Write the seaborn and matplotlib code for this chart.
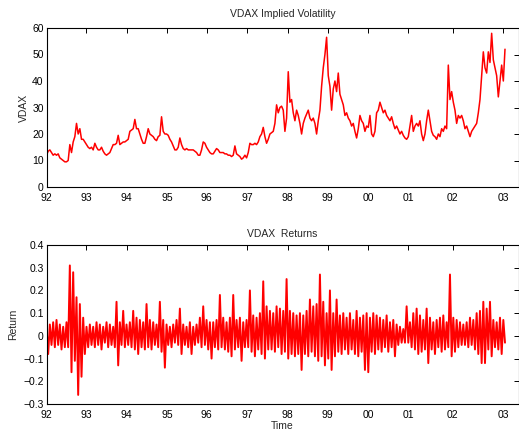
import numpy as np
import pandas as pd
import matplotlib
matplotlib.use("Agg")
import matplotlib.pyplot as plt
import seaborn as sns

# ---------------- data ----------------
# VDAX level, sampled every 5 observation units from the start of 1992
vdax_level = [
    # 1992
    12, 13.5, 14, 13, 12, 12.5, 12, 12.5, 11, 10.5, 10, 9.5, 9.5, 10, 16, 13, 17, 19, 24, 20, 22, 18, 18, 17,
    # 1993
    16, 15, 14.5, 15, 14, 16.5, 15, 14, 14, 15, 13.5, 12.5, 12, 12.5, 13, 14.5, 16, 16, 16.5, 19.5, 16, 16.5, 17, 17,
    # 1994
    17.5, 18, 21, 21.5, 22, 25.5, 22, 22, 20, 18, 16.5, 16.5, 19, 22, 20, 19.5, 19, 18, 17.5, 19, 19.5, 26.5, 21, 20,
    # 1995
    20, 19.5, 18, 17, 15.5, 14, 14, 15, 18.5, 16, 14.5, 14, 14.5, 14, 14, 14, 14, 13.5, 13, 12, 12, 14, 17, 16.5,
    # 1996
    15, 14, 13, 12.5, 12.5, 13.5, 14.5, 14, 13, 13, 13, 12.5, 12.5, 12, 12, 11.5, 12, 15.5, 12.5, 12, 11.5, 10.5, 11, 12,
    # 1997
    11, 13, 16.5, 16, 16, 16.5, 16, 17,
    19, 20, 22.5, 19, 16.5, 18, 20, 20.5, 21, 24, 31, 28, 30, 30.5, 29, 21, 26,
    # 1998
    43.5, 32, 33, 28, 25, 29, 27, 24, 20, 24, 26, 27.5, 29, 26, 25, 26, 24, 20, 25, 29, 38, 45, 50,
    # 1999
    56.5, 42, 38, 29, 37, 40, 36, 43, 35, 33, 31, 27, 28, 26, 25, 23, 24, 21, 18.5, 22,
    27, 25, 24, 21, 23, 22.5,
    # 2000
    27, 20, 19, 21, 28, 29, 32, 30, 28, 29, 27, 26, 25, 26.5, 24, 22, 23, 21.5, 20, 21, 19.5, 18.5, 18, 19,
    # 2001
    23, 27, 21, 23, 24, 23, 25, 20, 17.5, 20, 25, 29, 25, 21, 19.5, 19, 18, 20, 19, 22, 21, 23, 22,
    # 2002
    46, 33, 36, 32, 29, 24, 27, 26, 27, 25, 22, 23, 21, 19, 21, 22, 23, 24, 28, 33, 42, 51, 45, 43, 51, 47, 58,
    48, 45, 42, 34, 40, 46, 40, 52,
]
level_step = 5

# Daily VDAX returns: upper / lower extent in each 10-unit window
ret_high = [
    0.04, 0.05, 0.06, 0.07, 0.05, 0.04, 0.06, 0.31, 0.28, 0.17, 0.14, 0.08,
    0.04, 0.05, 0.04, 0.06, 0.05, 0.04, 0.06, 0.05, 0.04, 0.15, 0.06, 0.11,
    0.05, 0.06, 0.11, 0.08, 0.07, 0.06, 0.14, 0.07, 0.06, 0.05, 0.15, 0.07,
    0.05, 0.04, 0.05, 0.07, 0.12, 0.05, 0.04, 0.06, 0.04, 0.05, 0.08, 0.13,
    0.07, 0.06, 0.06, 0.07, 0.18, 0.08, 0.06, 0.08, 0.18, 0.07, 0.08, 0.06,
    0.07, 0.20, 0.09, 0.08, 0.10, 0.24, 0.13, 0.11, 0.10, 0.13, 0.12, 0.11,
    0.25, 0.11, 0.10, 0.09, 0.10, 0.09, 0.11, 0.16, 0.13, 0.14, 0.27, 0.15,
    0.10, 0.20, 0.10, 0.16, 0.09, 0.10, 0.08, 0.10, 0.07, 0.11, 0.08, 0.09,
    0.10, 0.08, 0.10, 0.09, 0.08, 0.07, 0.09, 0.06, 0.07, 0.05, 0.04, 0.03,
    0.13, 0.06, 0.10, 0.12, 0.09, 0.07, 0.12, 0.08, 0.06, 0.07, 0.08, 0.09, 0.06,
    0.27, 0.08, 0.07, 0.06, 0.05, 0.06, 0.08, 0.07, 0.10, 0.11, 0.15, 0.12, 0.15,
    0.07, 0.06, 0.08, 0.07,
]
ret_low = [
    -0.08, -0.04, -0.05, -0.04, -0.06, -0.05, -0.05, -0.16, -0.11, -0.26, -0.18, -0.08,
    -0.05, -0.04, -0.05, -0.04, -0.06, -0.03, -0.05, -0.04, -0.05, -0.13, -0.04, -0.05,
    -0.04, -0.05, -0.06, -0.08, -0.05, -0.06, -0.05, -0.06, -0.04, -0.05, -0.07, -0.14,
    -0.04, -0.05, -0.03, -0.04, -0.08, -0.04, -0.05, -0.08, -0.04, -0.03, -0.05, -0.04,
    -0.06, -0.10, -0.05, -0.06, -0.05, -0.06, -0.07, -0.09, -0.06, -0.05, -0.11, -0.05,
    -0.05, -0.07, -0.09, -0.06, -0.08, -0.10, -0.06, -0.06, -0.07, -0.05, -0.08, -0.07,
    -0.10, -0.08, -0.09, -0.08, -0.15, -0.08, -0.09, -0.07, -0.09, -0.11, -0.09, -0.13,
    -0.10, -0.15, -0.09, -0.07, -0.08, -0.06, -0.08, -0.06, -0.08, -0.09, -0.07, -0.15,
    -0.16, -0.07, -0.08, -0.06, -0.07, -0.05, -0.07, -0.05, -0.09, -0.04, -0.03, -0.03,
    -0.03, -0.05, -0.06, -0.08, -0.07, -0.06, -0.12, -0.06, -0.08, -0.05, -0.07, -0.06, -0.05,
    -0.09, -0.07, -0.05, -0.04, -0.04, -0.05, -0.04, -0.06, -0.08, -0.12, -0.12, -0.06, -0.09,
    -0.05, -0.06, -0.08, -0.03,
]
ret_step = 10

year_labels = ["92", "93", "94", "95", "96", "97", "98", "99", "00", "01", "02", "03"]
year_starts = [0, 118, 240, 362, 480, 602, 723, 843, 965, 1085, 1218, 1370]
x_end = 1415.5

# ---------------- frames ----------------
lvl = pd.DataFrame({"obs": np.arange(len(vdax_level)) * level_step,
                    "VDAX": vdax_level})
r_vals = []
for h, l in zip(ret_high, ret_low):
    r_vals.extend([h, l])
ret = pd.DataFrame({"obs": np.arange(len(r_vals)) * (ret_step / 2),
                    "Return": r_vals})

# ---------------- figure ----------------
sns.set_theme(style="white")
plt.rcParams["font.family"] = ["Liberation Sans", "DejaVu Sans"]
plt.rcParams["axes.unicode_minus"] = True

W, H = 519, 430
fig = plt.figure(figsize=(W / 100, H / 100), dpi=100)
L, R = 46.5, 518.5
ax1 = fig.add_axes([L / W, 1 - 187 / H, (R - L) / W, 159 / H])
ax2 = fig.add_axes([L / W, 1 - 404 / H, (R - L) / W, 159 / H])

sns.lineplot(data=lvl, x="obs", y="VDAX", ax=ax1, color="#ff0000",
             linewidth=1.1, estimator=None, sort=False)
sns.lineplot(data=ret, x="obs", y="Return", ax=ax2, color="#ff0000",
             linewidth=1.4, estimator=None, sort=False)

fs = 7.5
for ax in (ax1, ax2):
    ax.set_xlim(0, x_end)
    ax.set_xticks(year_starts)
    ax.set_xticklabels(year_labels)
    ax.tick_params(direction="in", top=True, right=True, length=3.5,
                   width=0.7, labelsize=fs, pad=2, colors="black")
    ax.tick_params(axis="x", pad=4)
    for s in ax.spines.values():
        s.set_visible(True)
        s.set_color("black")
        s.set_linewidth(0.8)
    ax.grid(False)

ax1.set_ylim(0, 60)
ax1.set_yticks([0, 10, 20, 30, 40, 50, 60])
ax1.set_ylabel("VDAX", fontsize=fs, labelpad=2)
ax1.set_xlabel("")
ax1.set_title("VDAX Implied Volatility", fontsize=fs, pad=8)

ax2.set_ylim(-0.3, 0.4)
ax2.set_yticks([-0.3, -0.2, -0.1, 0, 0.1, 0.2, 0.3, 0.4])
ax2.set_yticklabels(["\u22120.3", "\u22120.2", "\u22120.1", "0", "0.1", "0.2", "0.3", "0.4"])
ax2.set_ylabel("Return", fontsize=fs, labelpad=4)
ax2.set_xlabel("Time", fontsize=fs, labelpad=1)
ax2.set_title("VDAX  Returns", fontsize=fs, pad=6)

fig.savefig("out.png", dpi=100)
